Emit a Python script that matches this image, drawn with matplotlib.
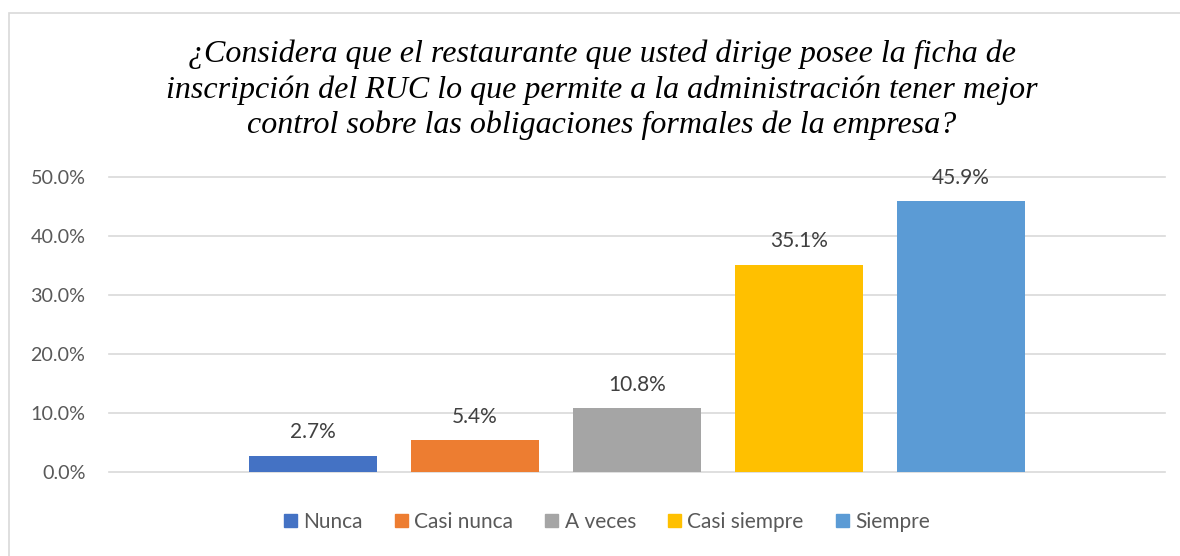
import matplotlib
matplotlib.use("Agg")
import matplotlib.pyplot as plt
from matplotlib.patches import Rectangle
import numpy as np

title = ("¿Considera que el restaurante que usted dirige posee la ficha de\n"
         "inscripción del RUC lo que permite a la administración tener mejor\n"
         "control sobre las obligaciones formales de la empresa?")
categories = ["Nunca", "Casi nunca", "A veces", "Casi siempre", "Siempre"]
values = [0.027, 0.054, 0.108, 0.351, 0.459]
colors = ["#4472C4", "#ED7D31", "#A5A5A5", "#FFC000", "#5B9BD5"]
yticks = [0.0, 0.1, 0.2, 0.3, 0.4, 0.5]

W, H = 1180, 556
fig = plt.figure(figsize=(W / 100, H / 100), dpi=100)

# chart border
fig.patches.append(Rectangle((9 / W, -0.1), 1.2, 1 - 13 / H + 0.1, transform=fig.transFigure,
                             fill=False, edgecolor="#D9D9D9", linewidth=1.2))

ax_l, ax_r, ax_t, ax_b = 109, 1165, 177, 472
ax = fig.add_axes([ax_l / W, 1 - ax_b / H, (ax_r - ax_l) / W, (ax_b - ax_t) / H])

x = np.arange(len(categories))
width = 128 / 162
half = (ax_r - ax_l) / 2 / 162
bars = ax.bar(x, values, width=width, color=colors, label=categories, zorder=3)
ax.set_xlim(2 - half, 2 + half)
ax.set_ylim(0, 0.5)
ax.set_yticks(yticks)
ax.set_yticklabels([f"{v*100:.1f}%" for v in yticks])
ax.set_xticks([])
for s in ax.spines.values():
    s.set_visible(False)
ax.tick_params(axis="y", length=0, pad=17, labelsize=14.2, labelcolor="#595959")
for lab in ax.get_yticklabels():
    lab.set_fontfamily("Lato")
for v in yticks:
    ax.axhline(v, color="#D9D9D9", linewidth=1.2, zorder=1, clip_on=False)

for xi, v in zip(x, values):
    ax.annotate(f"{v*100:.1f}%", (xi, v), xytext=(0, 17), textcoords="offset points",
                ha="center", va="center", fontsize=15, color="#404040", family="Lato")

fig.text(602 / W, 1 - 90 / H, title, ha="center", va="center", fontsize=23,
         family="Liberation Serif", style="italic", color="#000000", linespacing=1.27)

handles = [Rectangle((0, 0), 1, 1, color=c) for c in colors]
leg = fig.legend(handles, categories, loc="center", bbox_to_anchor=(607 / W, 1 - 522 / H),
                 ncol=5, frameon=False, handlelength=0.62, handleheight=0.62,
                 handletextpad=0.3, columnspacing=1.55, prop={"family": "Lato", "size": 15})
for t in leg.get_texts():
    t.set_color("#595959")

fig.savefig("out.png", dpi=100, facecolor="white")
